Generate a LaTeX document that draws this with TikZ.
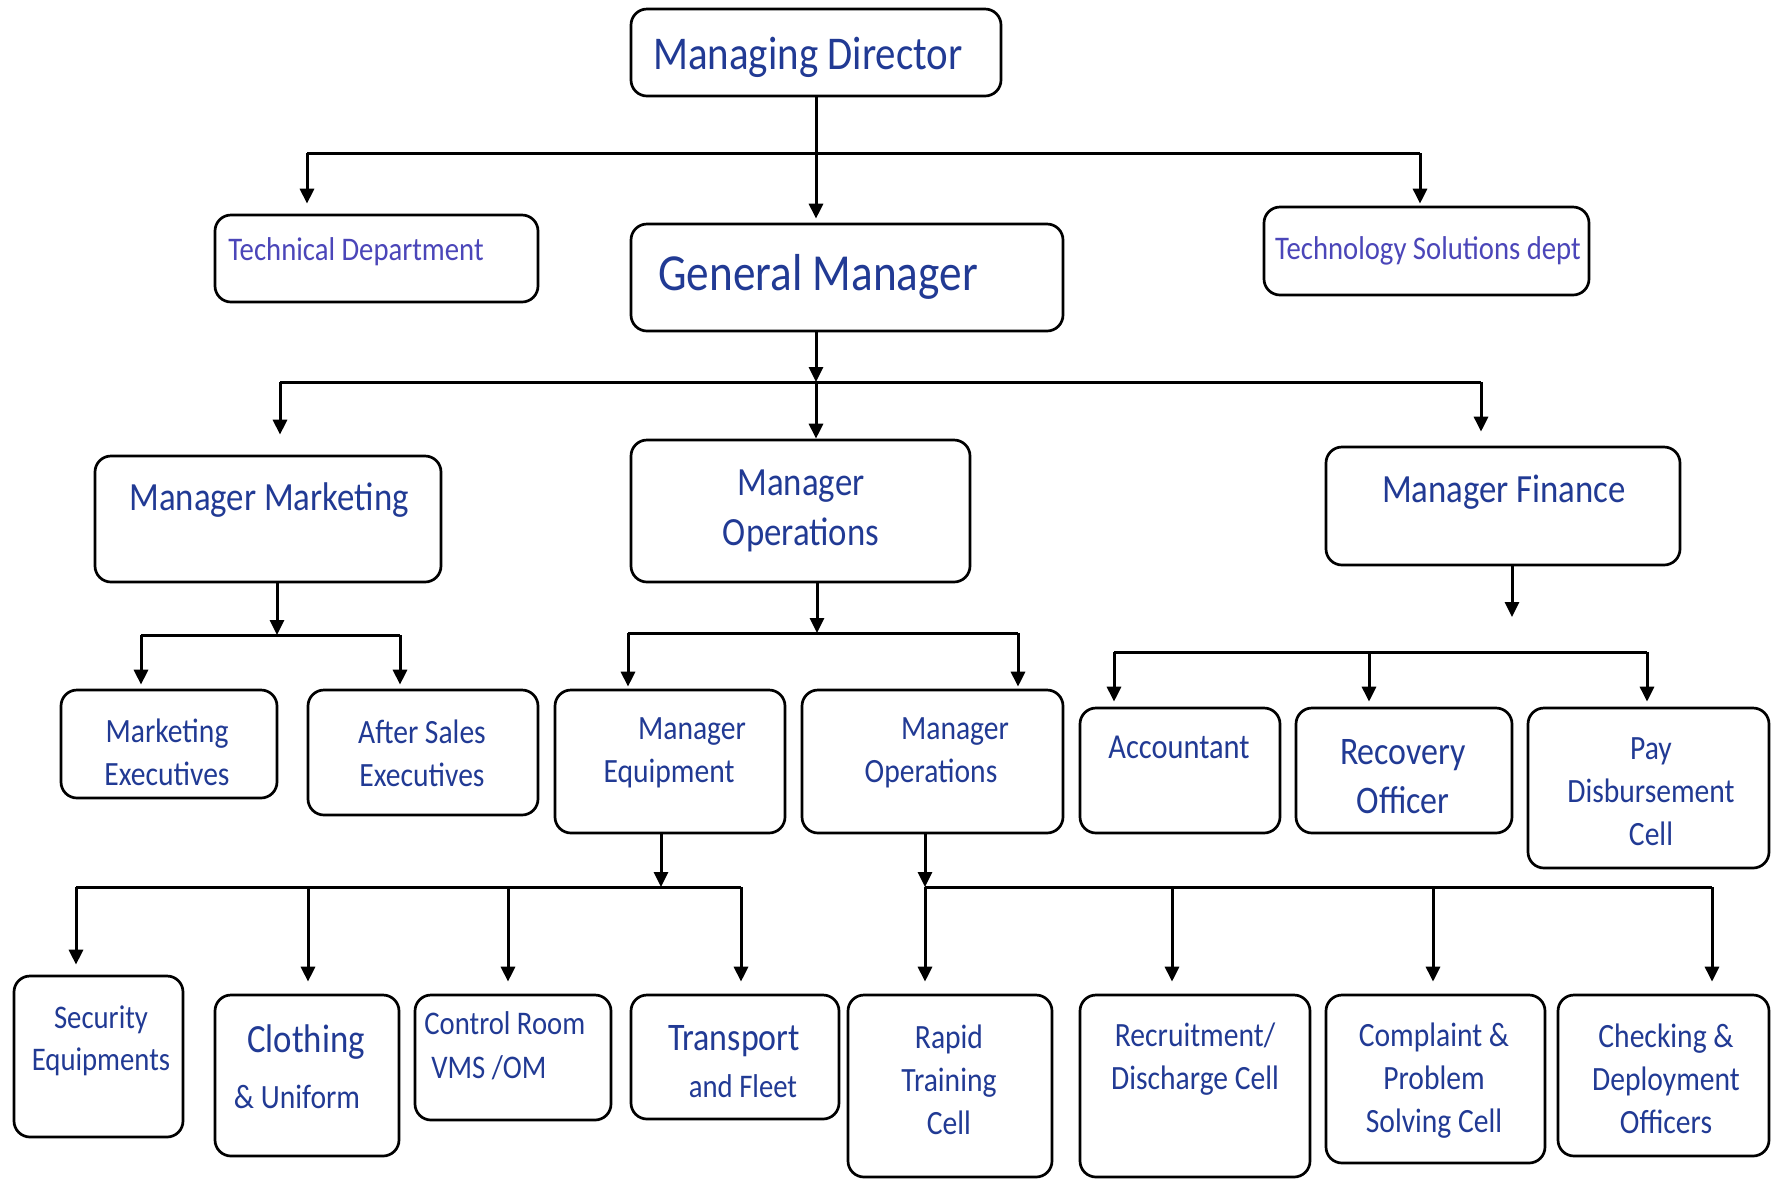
\documentclass[tikz,border=0pt]{standalone}
\usepackage{fontspec}
\setmainfont{Carlito}[FakeStretch=0.87]
\usetikzlibrary{arrows.meta,fit}
\definecolor{navy}{RGB}{33,58,148}
\definecolor{violetblue}{RGB}{75,70,185}
\newcommand\fsz[2]{\fontsize{#1}{#2}\selectfont}
\begin{document}
\begin{tikzpicture}[x=0.5pt,y=-0.5pt,
  box/.style={draw, line width=1.35pt, rounded corners=8pt, inner sep=0pt, fill=white},
  ln/.style={line width=1.5pt},
  arr/.style={line width=1.5pt, -{Triangle[length=7.5pt,width=7pt]}},
  txt/.style={text=navy, align=center, inner sep=0pt, font=\fsz{17pt}{21.5pt}}]
\fill[white] (0,0) rectangle (1773,1180);
\useasboundingbox (0,0) rectangle (1773,1180);
% boxes
\node[box, fit={(631,9) (1001,96)}] (md) {};
\node[box, fit={(215,215) (538,302)}] (td) {};
\node[box, fit={(631,224) (1063,331)}] (gm) {};
\node[box, fit={(1264,207) (1589,295)}] (ts) {};
\node[box, fit={(95,456) (441,582)}] (mm) {};
\node[box, fit={(631,440) (970,582)}] (mo) {};
\node[box, fit={(1326,447) (1680,565)}] (mf) {};
\node[box, fit={(61,690) (277,798)}] (mex) {};
\node[box, fit={(308,690) (538,815)}] (ase) {};
\node[box, fit={(555,690) (785,833)}] (meq) {};
\node[box, fit={(802,690) (1063,833)}] (mo2) {};
\node[box, fit={(1080,708) (1280,833)}] (acc) {};
\node[box, fit={(1296,708) (1512,833)}] (rec) {};
\node[box, fit={(1528,708) (1769,868)}] (pay) {};
\node[box, fit={(14,976) (183,1137)}] (sec) {};
\node[box, fit={(215,995) (399,1156)}] (clo) {};
\node[box, fit={(415,995) (611,1120)}] (ctl) {};
\node[box, fit={(631,995) (839,1119)}] (trn) {};
\node[box, fit={(848,995) (1052,1177)}] (rap) {};
\node[box, fit={(1080,995) (1310,1177)}] (rcr) {};
\node[box, fit={(1326,995) (1545,1163)}] (cmp) {};
\node[box, fit={(1558,995) (1769,1156)}] (chk) {};
% texts
\node[txt, font=\fsz{23.5pt}{28pt}] (md-t) at (808,57) {Managing Director};
\node[txt, font=\fsz{26pt}{31pt}] (gm-t) at (818,277) {General Manager};
\node[txt, text=violetblue, font=\fsz{16.5pt}{20pt}] (td-t) at (356,252) {Technical Department};
\node[txt, text=violetblue, font=\fsz{16.5pt}{20pt}] (ts-t) at (1428,251) {Technology Solutions dept};
\node[txt, font=\fsz{20pt}{25pt}] (mm-t) at (269,500) {Manager Marketing};
\node[txt, font=\fsz{20pt}{25pt}] (mo-t) at (801,511) {Manager\\Operations};
\node[txt, font=\fsz{20pt}{25pt}] (mf-t) at (1504,492) {Manager Finance};
\node[txt] (mex-t) at (167,752) {Marketing\\Executives};
\node[txt] (ase-t) at (422,753) {After Sales\\Executives};
\node[txt] (meq-t) at (669,753) {\hspace*{23pt}Manager\\Equipment};
\node[txt] (mo2-t) at (931,753) {\hspace*{24pt}Manager\\Operations};
\node[txt, font=\fsz{17.5pt}{22pt}] (acc-t) at (1179,747) {Accountant};
\node[txt, font=\fsz{19.5pt}{24.5pt}] (rec-t) at (1403,777) {Recovery\\Officer};
\node[txt] (pay-t) at (1651,792) {Pay\\Disbursement\\Cell};
\node[txt, font=\fsz{16.5pt}{21pt}] (sec-t) at (101,1041) {Security\\Equipments};
\node[txt, font=\fsz{17pt}{21pt}] (clo-t) at (297,1067) {\hspace*{9pt}{\fsz{20pt}{24pt}Clothing}\\[7pt]\& Uniform};
\node[txt, align=left, anchor=west, font=\fsz{16.5pt}{22pt}] (ctl-t) at (424,1046) {Control Room\\\hspace*{3.5pt}VMS /OM};
\node[txt, font=\fsz{16.5pt}{20.5pt}] (trn-t) at (734,1062) {{\fsz{19.5pt}{23pt}Transport}\\[3pt]\hspace*{9pt}and Fleet};
\node[txt] (rap-t) at (949,1080) {Rapid\\Training\\Cell};
\node[txt] (rcr-t) at (1195,1059) {Recruitment/\\Discharge Cell};
\node[txt] (cmp-t) at (1434,1081) {Complaint \&\\Problem\\Solving Cell};
\node[txt] (chk-t) at (1666,1079) {Checking \&\\Deployment\\Officers};
% level 1: Managing Director
\coordinate (j1l) at (307,153);
\coordinate (j1r) at (1420,153);
\draw[arr, shorten >=2pt] (md.south) -- (md.south |- gm.north);
\draw[ln] (j1l) -- (j1r);
\draw[arr, shorten >=5pt] (j1l) -- (j1l |- td.north);
\draw[arr, shorten >=1pt] (j1r) -- (j1r |- ts.north);
% level 2: General Manager
\coordinate (j2) at (816,382);
\coordinate (j2l) at (280,382);
\coordinate (j2r) at (1481,382);
\draw[arr] (j2 |- gm.south) -- (j2);
\draw[ln] (j2l) -- (j2r);
\draw[arr] (j2) -- (j2 |- mo.north);
\draw[arr, shorten >=10pt] (j2l) -- (j2l |- mm.north);
\draw[arr, shorten >=7pt] (j2r) -- (j2r |- mf.north);
% Manager Marketing
\coordinate (j3) at (277,635);
\coordinate (j3l) at (141,635);
\coordinate (j3r) at (400,635);
\draw[arr] (j3 |- mm.south) -- (j3);
\draw[ln] (j3l) -- (j3r);
\draw[arr, shorten >=2pt] (j3l) -- (j3l |- mex.north);
\draw[arr, shorten >=2pt] (j3r) -- (j3r |- ase.north);
% Manager Operations
\coordinate (j4) at (817,633);
\coordinate (j4l) at (628,633);
\coordinate (j4r) at (1018,633);
\draw[arr] (j4 |- mo.south) -- (j4);
\draw[ln] (j4l) -- (j4r);
\draw[arr, shorten >=1pt] (j4l) -- (j4l |- meq.north);
\draw[arr, shorten >=1pt] (j4r) -- (j4r |- mo2.north);
% Manager Finance
\coordinate (mfend) at (1512,617);
\draw[arr] (mfend |- mf.south) -- (mfend);
\coordinate (j5l) at (1114,652);
\coordinate (j5m) at (1369,652);
\coordinate (j5r) at (1647,652);
\draw[ln] (j5l) -- (j5r);
\draw[arr, shorten >=2.5pt] (j5l) -- (j5l |- acc.north);
\draw[arr, shorten >=2.5pt] (j5m) -- (j5m |- rec.north);
\draw[arr, shorten >=2.5pt] (j5r) -- (j5r |- pay.north);
% Manager Equipment
\coordinate (j6) at (661,887);
\coordinate (j6a) at (76,887);
\coordinate (j6b) at (308,887);
\coordinate (j6c) at (508,887);
\coordinate (j6d) at (741,887);
\draw[arr] (j6 |- meq.south) -- (j6);
\draw[ln] (j6a) -- (j6d);
\draw[arr, shorten >=5pt] (j6a) -- (j6a |- sec.north);
\draw[arr, shorten >=6pt] (j6b) -- (j6b |- clo.north);
\draw[arr, shorten >=6pt] (j6c) -- (j6c |- ctl.north);
\draw[arr, shorten >=6pt] (j6d) -- (j6d |- trn.north);
% Manager Operations (second)
\coordinate (j7) at (925,887);
\coordinate (j7b) at (1172,887);
\coordinate (j7c) at (1433,887);
\coordinate (j7d) at (1712,887);
\draw[arr] (j7 |- mo2.south) -- (j7);
\draw[ln] (j7) -- (j7d);
\draw[arr, shorten >=6pt] (j7) -- (j7 |- rap.north);
\draw[arr, shorten >=6pt] (j7b) -- (j7b |- rcr.north);
\draw[arr, shorten >=6pt] (j7c) -- (j7c |- cmp.north);
\draw[arr, shorten >=6pt] (j7d) -- (j7d |- chk.north);
\end{tikzpicture}
\end{document}
